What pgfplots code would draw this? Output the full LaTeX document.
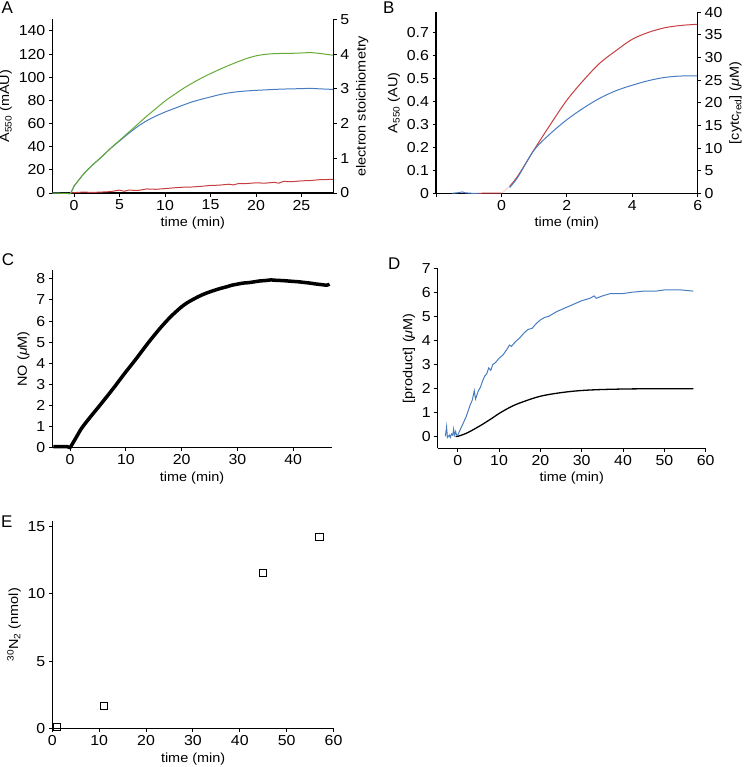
\documentclass[border=0pt]{standalone}
\usepackage{fontspec}
\setmainfont{Liberation Sans}[FakeStretch=1.1]
\newfontfamily\letterfont{Liberation Sans}
\usepackage{pgfplots}
\pgfplotsset{compat=1.18}
\definecolor{cgreen}{RGB}{102,170,52}
\definecolor{cblue}{RGB}{72,124,192}
\definecolor{cred}{RGB}{198,62,64}
\pgfplotsset{
  base/.style={
    scale only axis, anchor=south west, clip=false,
    axis x line=bottom, axis y line=left,
    axis line style={-, line width=1.1bp, black},
    tick style={line width=1bp, black},
    tick align=outside, major tick length=3.5bp,
    tick label style={font=\fontsize{14.5}{16}\selectfont},
    label style={font=\fontsize{13.2}{15}\selectfont},
    /pgf/number format/assume math mode=true,
  },
  rightax/.style={
    scale only axis, anchor=south west, clip=false,
    axis x line=none, axis y line=right,
    axis line style={-, line width=1.1bp, black},
    tick style={line width=1bp, black},
    tick align=outside, major tick length=3.5bp,
    tick label style={font=\fontsize{14.5}{16}\selectfont},
    label style={font=\fontsize{13.2}{15}\selectfont},
    /pgf/number format/assume math mode=true,
  },
}
\begin{document}
\begin{tikzpicture}
\useasboundingbox (0,0) rectangle (745bp,-767bp);
% ---------------- Panel A ----------------
\begin{axis}[base, at={(52.3bp,-193bp)}, width=281bp, height=173.6bp,
  xmin=-2.4, xmax=28.5, ymin=0, ymax=150,
  xtick={0,5,...,25}, ytick={0,20,...,140},
  xlabel={time (min)}, ylabel={A\textsubscript{550} (mAU)}]
\addplot[cred, line width=1bp] coordinates {
(-0.5,0) (0,0.3) (1,0.8) (2,0.5) (3,0.8) (4,1.2) (5,2.5) (5.5,1.5) (6,2.5) (7,2.2) (8,3.5) (9,3.2) (10,3.8) (11,4.5) (12,5) (13,5.2) (14,5.8) (15,6.5) (16,6.8) (17,7.6) (17.5,7) (18,8) (19,8.2) (20,8.8) (21,8.5) (22,9.2) (22.5,8.5) (23,10) (24,9.8) (25,10.5) (26,10.8) (27,11.5) (28.5,11.8)};
\addplot[cblue, line width=1bp] coordinates {(-2.4,0) (-0.4,-0.5) (0,6)};
\addplot[cblue, line width=1bp, smooth] coordinates {
(0,6) (1,16) (2,24) (3,31) (4,38.5) (5,45) (6,51.5) (7,57.5) (8,62.5) (9,66.5) (10,70) (11,73) (12,76) (13,78.8) (14,81) (15,83) (16,85) (17,86.5) (18,87.5) (19,88.2) (20,88.7) (21,89.1) (22,89.5) (23,89.8) (24,90) (25,90.2) (26,90.4) (27,90) (28.5,89.5)};
\addplot[cgreen, line width=1bp] coordinates {(-2.4,0) (-0.4,-0.5) (0,6)};
\addplot[cgreen, line width=1bp, smooth] coordinates {
(0,6) (1,16) (2,24) (3,31) (4,38.5) (5,45.5) (6,52.5) (7,59.5) (8,66.5) (9,73) (10,79.5) (11,85) (12,90.3) (13,95) (14,99.3) (15,103.2) (16,106.8) (17,110.2) (18,113.4) (19,116.3) (20,118.5) (21,119.8) (22,120.4) (23,120.6) (24,120.7) (25,121) (26,121.3) (27,120.6) (28.5,119)};
\end{axis}
\begin{axis}[rightax, at={(52.3bp,-193bp)}, width=281bp, height=173.6bp,
  xmin=-2.4, xmax=28.5, ymin=0, ymax=5, ytick={0,1,...,5},
  ylabel={electron stoichiometry}]
\addplot[draw=none] coordinates {(0,0)};
\end{axis}
% ---------------- Panel B ----------------
\begin{axis}[base, at={(436bp,-193.3bp)}, width=261.7bp, height=181bp,
  xmin=-2, xmax=6, ymin=0, ymax=0.787,
  xtick={-2,0,2,4,6}, xticklabels={,0,2,4,6}, ytick={0,0.1,...,0.7},
  yticklabel style={/pgf/number format/fixed, /pgf/number format/precision=1},
  xlabel={time (min)}, ylabel={A\textsubscript{550} (AU)}]
\addplot[cblue, line width=1bp] coordinates {
(-1.5,0) (-1.3,0.003) (-1.2,0.006) (-1.1,0.002) (-0.9,0) (-0.7,0)};
\addplot[cred, line width=1bp] coordinates {(-0.7,0) (-0.3,0.001) (0,0.001)};
\addplot[cred, line width=0.6bp, densely dotted] coordinates {(0,0) (0.25,0.03)};
\addplot[cred, line width=1bp, smooth] coordinates {
(0.25,0.03) (0.5,0.075) (1,0.19) (1.5,0.30) (2,0.405) (2.5,0.49) (3,0.565) (3.5,0.62) (4,0.67) (4.5,0.70) (5,0.72) (5.5,0.73) (6,0.735)};
\addplot[cblue, line width=1bp, smooth] coordinates {
(0.25,0.025) (0.5,0.07) (1,0.188) (1.5,0.26) (2,0.32) (2.5,0.37) (3,0.413) (3.5,0.446) (4,0.47) (4.5,0.49) (5,0.504) (5.5,0.51) (6,0.51)};
\end{axis}
\begin{axis}[rightax, at={(436bp,-193.3bp)}, width=261.7bp, height=181bp,
  xmin=-2, xmax=6, ymin=0, ymax=40, ytick={0,5,...,40},
  ylabel={[cytc\textsubscript{red}] ({\itshape μ}M)}]
\addplot[draw=none] coordinates {(0,0)};
\end{axis}
% ---------------- Panel C ----------------
\begin{axis}[base, at={(52.3bp,-447.7bp)}, width=279.4bp, height=177.7bp,
  xmin=-3.2, xmax=46.9, ymin=0, ymax=8.42,
  xtick={0,10,...,40}, ytick={0,1,...,8},
  xlabel={time (min)}, ylabel={NO ({\itshape μ}M)}]
\addplot[black, line width=3.5bp] coordinates {(-3,0.05) (-0.5,0.05) (0,0)};
\addplot[black, line width=3.5bp, smooth] coordinates {
(0,0) (1,0.45) (2,0.9) (3,1.25) (4,1.58) (5,1.9) (6,2.23) (7,2.56) (8,2.9) (9,3.25) (10,3.6) (11,3.93) (12,4.27) (13,4.62) (14,4.97) (15,5.3) (16,5.62) (17,5.92) (18,6.2) (19,6.45) (20,6.68) (21,6.87) (22,7.02) (23,7.16) (24,7.28) (25,7.38) (26,7.47) (27,7.55) (28,7.62) (29,7.7) (30,7.75) (31,7.8) (32,7.82) (33,7.86) (34,7.9) (35,7.92) (36,7.95) (37,7.93) (38,7.92) (39,7.9) (40,7.88) (41,7.86) (42,7.83) (43,7.8) (44,7.76) (45,7.73) (46,7.7) (46.5,7.75)};
\end{axis}
% ---------------- Panel D ----------------
\begin{axis}[base, at={(437.7bp,-448.3bp)}, width=268bp, height=180bp,
  xmin=-4.85, xmax=60, ymin=-0.5, ymax=7,
  xtick={0,10,...,60}, ytick={0,1,...,7},
  xlabel={time (min)}, ylabel={[product] ({\itshape μ}M)}]
\addplot[black, line width=1.3bp, smooth] coordinates {
(-0.5,0) (0,0) (2,0.12) (4,0.3) (6,0.5) (8,0.72) (10,0.95) (12,1.15) (14,1.32) (16,1.45) (18,1.57) (20,1.67) (22,1.74) (25,1.82) (28,1.88) (31,1.92) (35,1.95) (40,1.97) (45,1.98) (50,1.98) (57,1.98)};
\addplot[cblue, line width=1bp] coordinates {
(-3,0) (-2.7,0.4) (-2.5,-0.05) (-2,0.05) (-1.8,-0.05) (-1.5,0.1) (-1.2,0.05) (-1,0.3) (-0.8,0.05) (-0.5,0.2) (-0.3,0.05) (0,0.05) (2,0.8) (3,1.3) (3.5,1.5) (4,1.9) (4.3,1.55) (5,1.9) (5.5,2.05) (6,2.3) (6.5,2.5) (7,2.6) (7.5,2.85) (8,2.75) (8.5,3.0) (9,3.05) (10,3.25) (11,3.4) (12,3.65) (12.5,3.8) (13,3.75) (14,3.95) (15,4.1) (16,4.3) (17,4.45) (18,4.5) (19,4.7) (20,4.85) (21,4.95) (22,5.0) (24,5.2) (26,5.35) (28,5.5) (30,5.65) (32,5.75) (33,5.85) (33.5,5.75) (35,5.85) (37,5.95) (40,5.95) (42,6.0) (45,6.05) (48,6.05) (50,6.1) (52,6.1) (54,6.1) (57,6.05)};
\end{axis}
% ---------------- Panel E ----------------
\begin{axis}[base, at={(52.3bp,-728.7bp)}, width=281.7bp, height=208bp,
  xmin=0, xmax=60.1, ymin=0, ymax=15.4,
  xtick={0,10,...,60}, ytick={0,5,10,15},
  xlabel={time (min)}, ylabel={\textsuperscript{30}N\textsubscript{2} (nmol)}]
\addplot[only marks, mark=square, mark size=3.6bp, mark options={line width=1bp, black, fill=white}] coordinates {
(1,0.1) (11,1.7) (45,11.5) (57,14.2)};
\end{axis}
% ---------------- Panel letters ----------------
\begin{scope}[every node/.style={anchor=north west, inner sep=0pt, font=\letterfont\fontsize{17}{17}\selectfont}]
\node at (1.5bp,-1.5bp) {A};
\node at (383bp,-2bp) {B};
\node at (1.7bp,-253bp) {C};
\node at (388bp,-258bp) {D};
\node at (1bp,-515.7bp) {E};
\end{scope}
\end{tikzpicture}
\end{document}
